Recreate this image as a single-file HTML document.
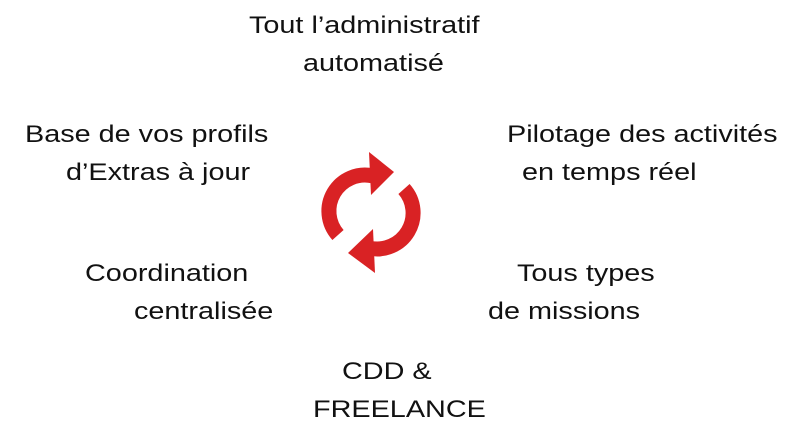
<!DOCTYPE html>
<html><head><style>
body{margin:0;width:794px;height:434px;background:#fff;position:relative;overflow:hidden;font-family:"Liberation Sans",sans-serif;color:#111;font-size:24px}
.t{position:absolute;white-space:nowrap;line-height:38px;transform:scaleX(1.2);transform-origin:0 50%}
</style></head><body>
<div class="t" style="left:249px;top:7px">Tout l’administratif</div>
<div class="t" style="left:303px;top:45px">automatisé</div>
<div class="t" style="left:25px;top:116px">Base de vos profils</div>
<div class="t" style="left:66px;top:154px">d’Extras à jour</div>
<div class="t" style="left:507px;top:116px">Pilotage des activités</div>
<div class="t" style="left:522px;top:154px">en temps réel</div>
<div class="t" style="left:85px;top:255px">Coordination</div>
<div class="t" style="left:134px;top:293px">centralisée</div>
<div class="t" style="left:517px;top:255px">Tous types</div>
<div class="t" style="left:488px;top:293px">de missions</div>
<div class="t" style="left:342px;top:353px">CDD &amp;</div>
<div class="t" style="left:313px;top:391px">FREELANCE</div>
<svg width="794" height="434" style="position:absolute;left:0;top:0">
<g fill="none" stroke="#d92224" stroke-width="15">
<path d="M338,235 A36,36 0 0 1 373,176"/>
<path d="M404,189 A36,36 0 0 1 369,248"/>
</g>
<g fill="#d92224">
<polygon points="369,152 394,172 371,195"/>
<polygon points="373,229 348,253 375,273"/>
</g>
</svg>
</body></html>
